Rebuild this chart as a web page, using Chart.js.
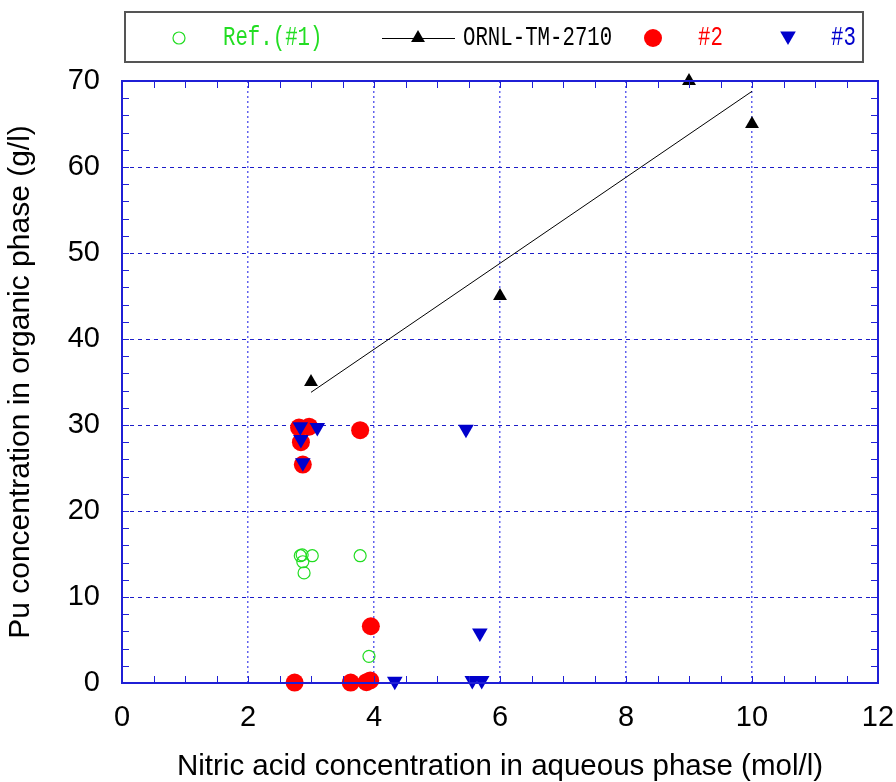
<!DOCTYPE html>
<html lang="en">
<head>
    <meta charset="UTF-8">
    <title>Pu concentration vs nitric acid</title>
    <script src="https://cdn.jsdelivr.net/npm/chart.js@4.4.1/dist/chart.umd.min.js"></script>
    <style>
        body{
            margin: 0;
            background-color: white;
        }
        #wrap{
            width: 896px;
            height: 782px;
        }
    </style>
</head>
<body>
    <div id="wrap"><canvas id="puChart" width="896" height="782"></canvas></div>
    <script>
        // values
        var refX = [2.83, 2.86, 3.02, 2.87, 2.89, 3.78, 3.92];
        var refY = [14.8, 14.9, 14.8, 14.1, 12.8, 14.8, 3.1];

        var ornlX = [3, 6, 9, 10];
        var ornlY = [35, 45, 70, 65];

        var fitX = [3, 10];
        var fitY = [33.8, 68.8];

        var run2X = [2.81, 2.97, 2.84, 2.87, 3.78, 3.95, 2.74, 3.63, 3.88, 3.94];
        var run2Y = [29.7, 29.8, 28.0, 25.4, 29.4, 6.6, 0.05, 0.05, 0.1, 0.3];

        var run3X = [2.83, 3.10, 2.84, 2.87, 5.46, 5.68, 4.33, 5.56, 5.71];
        var run3Y = [29.8, 29.7, 28.3, 25.6, 29.5, 5.8, 0.2, 0.3, 0.3];

        var xTicks = [0, 2, 4, 6, 8, 10, 12];
        var yTicks = [0, 10, 20, 30, 40, 50, 60, 70];

        var axisBlue = '#1f1fd6';

        function toPoints(xs, ys) {
            return xs.map(function (x, i) { return {x: x, y: ys[i]}; });
        }

        // frame on all four sides with inward minor ticks
        var framePlugin = {
            id: 'frame',
            afterDatasetsDraw: function (chart) {
                var ctx = chart.ctx, a = chart.chartArea;
                var xs = chart.scales.x, ys = chart.scales.y;
                ctx.save();
                ctx.strokeStyle = axisBlue;
                ctx.lineWidth = 1;
                ctx.beginPath();
                for (var v = 0; v <= 12; v += 0.5) {
                    var px = Math.round(xs.getPixelForValue(v)) + 0.5;
                    ctx.moveTo(px, a.bottom); ctx.lineTo(px, a.bottom - 7);
                    ctx.moveTo(px, a.top); ctx.lineTo(px, a.top + 7);
                }
                for (var w = 0; w <= 70; w += 2) {
                    var py = Math.round(ys.getPixelForValue(w)) + 0.5;
                    ctx.moveTo(a.left, py); ctx.lineTo(a.left + 7, py);
                    ctx.moveTo(a.right, py); ctx.lineTo(a.right - 7, py);
                }
                ctx.stroke();
                ctx.lineWidth = 2;
                ctx.strokeRect(a.left, a.top, a.right - a.left, a.bottom - a.top);
                ctx.restore();
            }
        };

        function marker(ctx, kind, x, y, r, fill, stroke) {
            ctx.beginPath();
            if (kind === 'circle') {
                ctx.arc(x, y, r, 0, Math.PI * 2);
            } else if (kind === 'up') {
                ctx.moveTo(x, y - r);
                ctx.lineTo(x + r * 0.866, y + r / 2);
                ctx.lineTo(x - r * 0.866, y + r / 2);
                ctx.closePath();
            } else {
                ctx.moveTo(x, y + r);
                ctx.lineTo(x + r * 0.866, y - r / 2);
                ctx.lineTo(x - r * 0.866, y - r / 2);
                ctx.closePath();
            }
            if (fill) { ctx.fillStyle = fill; ctx.fill(); }
            if (stroke) { ctx.strokeStyle = stroke; ctx.lineWidth = 1.2; ctx.stroke(); }
        }

        function legendText(ctx, txt, x, y, color) {
            ctx.save();
            ctx.translate(x, y);
            ctx.scale(0.74, 1);
            ctx.font = '28px "Liberation Mono", "DejaVu Sans Mono", monospace';
            ctx.textBaseline = 'middle';
            ctx.textAlign = 'left';
            ctx.fillStyle = color;
            ctx.fillText(txt, 0, 0);
            ctx.restore();
        }

        var legendPlugin = {
            id: 'boxLegend',
            afterDraw: function (chart) {
                var ctx = chart.ctx;
                var cy = 38;
                ctx.save();
                ctx.strokeStyle = '#555555';
                ctx.lineWidth = 2;
                ctx.strokeRect(125, 12, 738, 50);
                marker(ctx, 'circle', 179, cy, 6, null, '#22dd22');
                legendText(ctx, 'Ref.(#1)', 223, cy, '#22dd22');
                ctx.strokeStyle = '#000000';
                ctx.lineWidth = 1;
                ctx.beginPath();
                ctx.moveTo(382, cy + 0.5); ctx.lineTo(455, cy + 0.5);
                ctx.stroke();
                marker(ctx, 'up', 418, cy, 8, '#000000', null);
                legendText(ctx, 'ORNL-TM-2710', 463, cy, '#000000');
                marker(ctx, 'circle', 653, cy, 9, '#ff0000', null);
                legendText(ctx, '#2', 698, cy, '#ff0000');
                marker(ctx, 'down', 788, cy - 2, 9, '#0000cc', null);
                legendText(ctx, '#3', 831, cy, '#0000cc');
                ctx.restore();
            }
        };

        var ctx = document.getElementById('puChart').getContext('2d');
        var myChart = new Chart(ctx, {
            type: 'scatter',
            data: {
                datasets: [{
                    label: '#3',
                    data: toPoints(run3X, run3Y),
                    pointStyle: 'triangle',
                    rotation: 180,
                    pointRadius: 9,
                    backgroundColor: '#0000cc',
                    borderColor: '#0000cc',
                    borderWidth: 0,
                    clip: false,
                    order: 0
                }, {
                    label: '#2',
                    data: toPoints(run2X, run2Y),
                    pointStyle: 'circle',
                    pointRadius: 9,
                    backgroundColor: '#ff0000',
                    borderColor: '#ff0000',
                    borderWidth: 0,
                    clip: false,
                    order: 1
                }, {
                    label: 'ORNL-TM-2710',
                    data: toPoints(ornlX, ornlY),
                    pointStyle: 'triangle',
                    pointRadius: 8,
                    backgroundColor: '#000000',
                    borderColor: '#000000',
                    borderWidth: 0,
                    clip: false,
                    order: 2
                }, {
                    label: 'ORNL fit',
                    data: toPoints(fitX, fitY),
                    showLine: true,
                    pointRadius: 0,
                    borderColor: '#000000',
                    borderWidth: 1,
                    clip: false,
                    order: 3
                }, {
                    label: 'Ref.(#1)',
                    data: toPoints(refX, refY),
                    pointStyle: 'circle',
                    pointRadius: 6,
                    backgroundColor: 'rgba(0,0,0,0)',
                    borderColor: '#22dd22',
                    borderWidth: 1.2,
                    clip: false,
                    order: 4
                }]
            },
            options: {
                responsive: false,
                animation: false,
                layout: {
                    padding: {left: 0, right: 18, top: 81, bottom: 0}
                },
                plugins: {
                    legend: false,
                    tooltip: {enabled: false}
                },
                scales: {
                    x: {
                        type: 'linear',
                        min: 0,
                        max: 12,
                        afterFit: function (scale) {
                            scale.height = 99;
                            scale.paddingLeft = 0;
                            scale.paddingRight = 0;
                        },
                        afterBuildTicks: function (scale) {
                            scale.ticks = xTicks.map(function (v) { return {value: v}; });
                        },
                        ticks: {
                            color: '#000000',
                            padding: 18,
                            font: {family: '"Liberation Sans", Arial, sans-serif', size: 29}
                        },
                        grid: {
                            color: '#6262ee',
                            lineWidth: 1.5,
                            drawTicks: false
                        },
                        border: {display: false, dash: [2, 3]},
                        title: {
                            display: true,
                            text: 'Nitric acid concentration in aqueous phase (mol/l)',
                            color: '#000000',
                            font: {family: '"Liberation Sans", Arial, sans-serif', size: 29.5, lineHeight: 1},
                            padding: {top: 0, bottom: 0}
                        }
                    },
                    y: {
                        type: 'linear',
                        min: 0,
                        max: 70,
                        afterFit: function (scale) {
                            scale.width = 122;
                            scale.paddingTop = 0;
                            scale.paddingBottom = 0;
                        },
                        afterBuildTicks: function (scale) {
                            scale.ticks = yTicks.map(function (v) { return {value: v}; });
                        },
                        ticks: {
                            color: '#000000',
                            padding: 22,
                            font: {family: '"Liberation Sans", Arial, sans-serif', size: 29}
                        },
                        grid: {
                            color: '#1d1dc8',
                            lineWidth: 1,
                            drawTicks: false
                        },
                        border: {display: false, dash: [4, 4]},
                        title: {
                            display: true,
                            text: 'Pu concentration in organic phase (g/l)',
                            color: '#000000',
                            font: {family: '"Liberation Sans", Arial, sans-serif', size: 30, lineHeight: 1.2},
                            padding: {top: 3, bottom: 0}
                        }
                    }
                }
            },
            plugins: [framePlugin, legendPlugin]
        });
    </script>
</body>
</html>
